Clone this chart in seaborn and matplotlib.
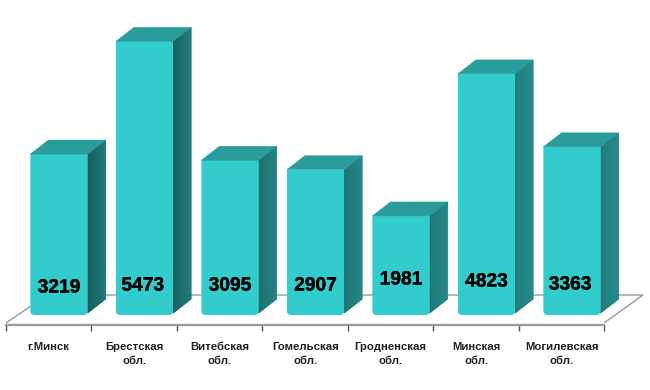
import matplotlib
matplotlib.use("Agg")
import matplotlib.pyplot as plt
import matplotlib.patheffects as pe
from matplotlib.patches import Polygon, FancyBboxPatch
import numpy as np
import seaborn as sns

regions = ["г.Минск", "Брестская\nобл.", "Витебская\nобл.", "Гомельская\nобл.",
           "Гродненская\nобл.", "Минская\nобл.", "Могилевская\nобл."]
values = [3219, 5473, 3095, 2907, 1981, 4823, 3363]

# Layout only: vertical text offset of the value labels above the bar base (data units)
label_heights = [540, 580, 580, 580, 700, 660, 600]
label_shift = [0.0, -0.02, 0.0, 0.0, 0.0, 0.0, -0.02]
side_dark = ["#155c5c", "#175f5f", "#1b6f6f", "#1c7474", "#1d7878", "#1f7c7c", "#1f7c7c"]
side_light = ["#1f7878", "#217c7c", "#248282", "#258585", "#258585", "#268888", "#268888"]

FACE = "#33CCCC"
TOP = "#2A9C9C"
GRID = "#9a9a9a"
PX_X = 85.5
PX_Y = 0.05
DX = 18 / PX_X
DY = 14 / PX_Y
WIDTH = 0.67

sns.set_theme(style="white")
plt.rcParams["font.family"] = ["Liberation Sans", "DejaVu Sans"]

fig = plt.figure(figsize=(6.5, 3.9), dpi=100, facecolor="white")
ax = fig.add_axes([6 / 650, (390 - 325) / 390, 598 / 650, 325 / 390])
ax.patch.set_alpha(0)

sns.barplot(x=regions, y=values, color=FACE, saturation=1, width=WIDTH, ax=ax, zorder=3,
            edgecolor="none", linewidth=0)
ax.set_xlim((6 - 59) / PX_X, (604 - 59) / PX_X)
ax.set_ylim(-200, 6300)

# floor outline
fl_front = -160
fl_back = 400
x_l = ax.get_xlim()[0]
x_r = ax.get_xlim()[1]
floor = Polygon([(x_l, fl_front), (x_l + 41 / PX_X, fl_back), (x_r + 39 / PX_X, fl_back), (x_r, fl_front)],
                closed=False, fill=False, edgecolor=GRID, lw=1.0, clip_on=False, zorder=1)
ax.add_patch(floor)

# bars: 3D faces and labels
for i, (bar, v) in enumerate(zip(ax.patches[:len(values)], values)):
    x0, x1 = bar.get_x(), bar.get_x() + bar.get_width()
    # rounded lower corners
    clip = FancyBboxPatch((x0, 0), x1 - x0, v + 600, boxstyle="round,pad=0,rounding_size=0.05",
                          mutation_aspect=PX_X / PX_Y, transform=ax.transData,
                          fc="none", ec="none")
    ax.add_patch(clip)
    bar.set_clip_path(clip)
    ax.add_patch(Polygon([(x0, v), (x1, v), (x1 + DX, v + DY), (x0 + DX, v + DY)],
                         fc=TOP, ec=TOP, lw=0.3, zorder=3, clip_on=False))
    n = 18
    c0 = np.array(matplotlib.colors.to_rgb(side_dark[i]))
    c1 = np.array(matplotlib.colors.to_rgb(side_light[i]))
    base = 40
    for k in range(n):
        a, b = k / n, min((k + 1) / n, 1)
        col = c0 + (c1 - c0) * k / (n - 1)
        ax.add_patch(Polygon([(x1 + DX * a, v + DY * a), (x1 + DX * b, v + DY * b),
                              (x1 + DX * b, base + DY * b), (x1 + DX * a, base + DY * a)],
                             fc=col, ec=col, lw=0.6, zorder=2.9, clip_on=False))
    ax.text(i + label_shift[i], label_heights[i], str(v), ha="center", va="center",
            fontsize=13.8, fontweight="bold", color="black", zorder=5,
            path_effects=[pe.withStroke(linewidth=0.25, foreground="black")])

# axis
for s in ["top", "left", "right"]:
    ax.spines[s].set_visible(False)
ax.spines["bottom"].set_color(GRID)
ax.spines["bottom"].set_linewidth(1.6)
ax.set_yticks([])
ax.set_xticks(np.arange(len(regions)) - 0.12)
ax.set_xticklabels(regions, fontsize=8.2, fontweight="bold", color="#222222", linespacing=1.5)
ax.set_xticks(np.linspace(x_l, x_r, len(regions) + 1), minor=True)
ax.tick_params(axis="x", which="major", length=0, pad=12, bottom=True)
ax.tick_params(axis="x", which="minor", length=4.5, width=1.0, color="#555555", bottom=True)
ax.set_xlabel("")
ax.set_ylabel("")

fig.savefig("out.png", dpi=100, facecolor="white")
